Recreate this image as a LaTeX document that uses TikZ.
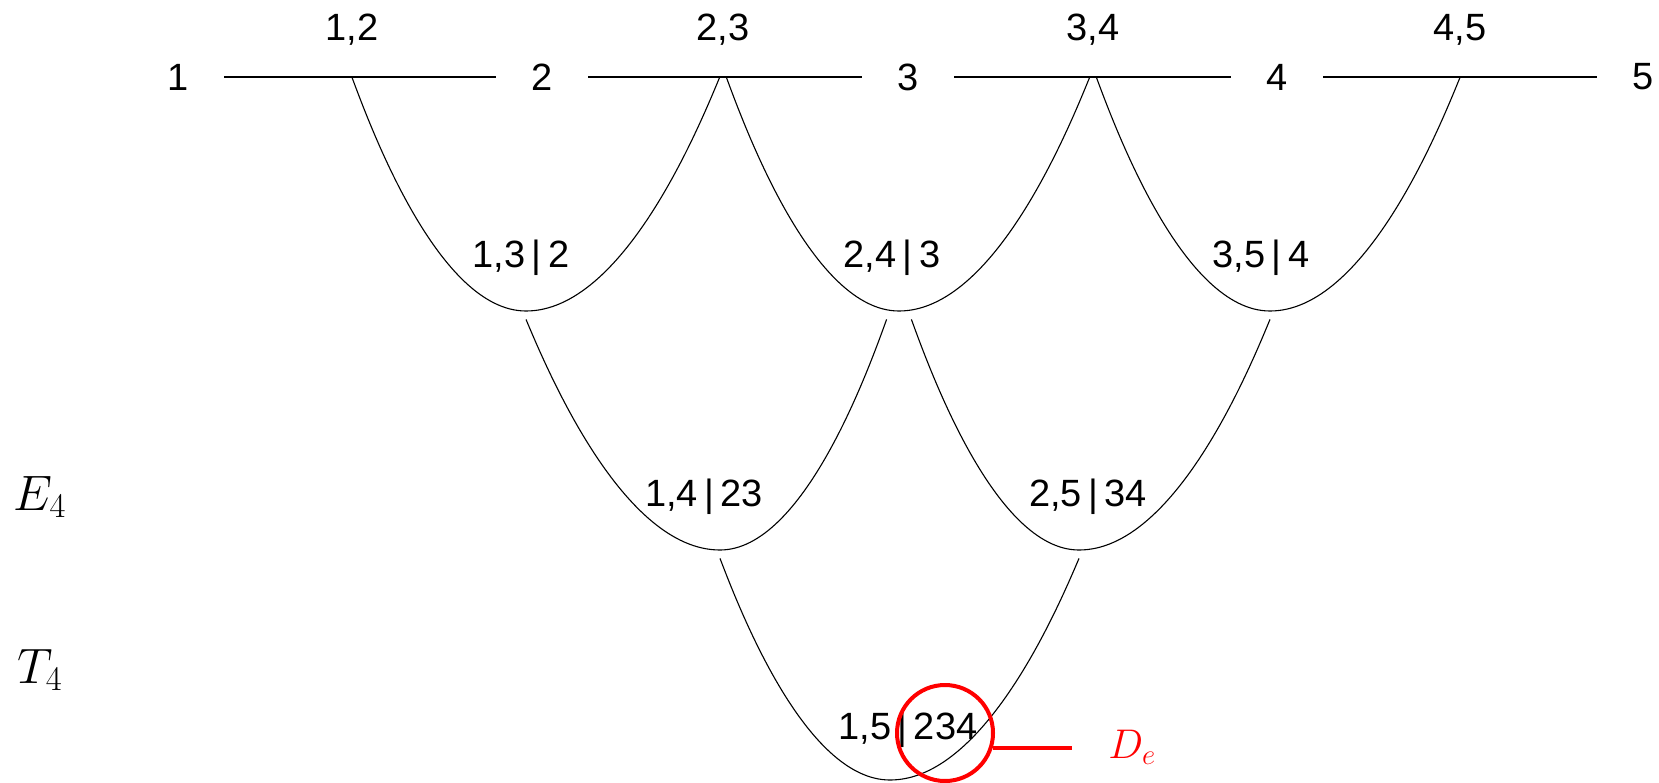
\documentclass[tikz,border=0pt]{standalone}
\usepackage{fontspec}
\newfontfamily\numfont{Liberation Sans}
\usetikzlibrary{positioning,calc}

\begin{document}
\begin{tikzpicture}[
    x=0.5pt,y=-0.5pt,
    seg/.style={draw=black, line width=1.2pt},
    vine/.style={draw=black, line width=0.55pt},
    vlabel/.style={font=\numfont\fontsize{19}{22}\selectfont, inner sep=0pt, minimum width=46pt},
    elabel/.style={font=\numfont\fontsize{19}{22}\selectfont, inner sep=0pt},
    clabel/.style={font=\numfont\fontsize{19}{22}\selectfont, inner sep=0pt},
    dot/.style={inner sep=0pt, minimum width=3pt, minimum height=0pt},
    apex/.style={inner sep=0pt, minimum width=12pt, minimum height=8pt},
    tlabel/.style={font=\fontsize{23}{27}\selectfont},
    hilite/.style={draw=red, line width=2pt},
    rlabel/.style={font=\fontsize{22}{26}\selectfont, text=red}
]

\useasboundingbox (0,0) rectangle (1659,782);

% ===== row heights =====
\def\yTop{77}
\def\yEdge{30}
\def\yB{311} \def\yC{550} \def\yD{780}
\def\bar{\,|\,}

% ===== tree T1: vertices and edges =====
\node[vlabel] (v1) at (178,\yTop) {1};
\node[vlabel] (v2) at (542,\yTop) {2};
\node[vlabel] (v3) at (908,\yTop) {3};
\node[vlabel] (v4) at (1277,\yTop) {4};
\node[vlabel] (v5) at (1643,\yTop) {5};

\draw[seg] (v1) -- (v2);
\draw[seg] (v2) -- (v3);
\draw[seg] (v3) -- (v4);
\draw[seg] (v4) -- (v5);

\node[elabel] (e12) at (352,\yEdge) {1,2};
\node[elabel] (e23) at (723,\yEdge) {2,3};
\node[elabel] (e34) at (1093,\yEdge) {3,4};
\node[elabel] (e45) at (1460,\yEdge) {4,5};

% attach points on the edges
\node[dot] (a12) at (e12 |- v1) {};
\node[dot] (a23) at (e23 |- v1) {};
\node[dot] (a34) at (e34 |- v1) {};
\node[dot] (a45) at (e45 |- v1) {};

% ===== tree T2 =====
\node[apex] (b13) at (526,\yB) {};
\node[apex] (b24) at (899,\yB) {};
\node[apex] (b35) at (1270,\yB) {};
\node[clabel] (c13) at (521,258) {1,3\bar 2};
\node[clabel] (c24) at (892,258) {2,4\bar 3};
\node[clabel] (c35) at (1261,258) {3,5\bar 4};

\draw[vine] (a12.south) parabola bend (b13.center) (a23.south west);
\draw[vine] (a23.south east) parabola bend (b24.center) (a34.south west);
\draw[vine] (a34.south east) parabola bend (b35.center) (a45.south);

% ===== tree T3 =====
\node[apex] (b14) at (720,\yC) {};
\node[apex] (b25) at (1079,\yC) {};
\node[clabel] (c14) at (704,497) {1,4\bar 23};
\node[clabel] (c25) at (1088,497) {2,5\bar 34};

\draw[vine] (b13.south) parabola bend (b14.center) (b24.south west);
\draw[vine] (b24.south east) parabola bend (b25.center) (b35.south);

% ===== tree T4 =====
\node[apex] (b15) at (890,\yD) {};
\node[clabel] (c15) at (908,730) {1,5\bar 234};

\draw[vine] (b14.south) parabola bend (b15.center) (b25.south);

% level labels
\node[tlabel] (lE) at (40,497) {$E_4$};
\node[tlabel] (lT) at (40,670) {$T_4$};

% highlighted edge
\node[circle, hilite, minimum size=48pt, inner sep=0pt] (de) at (945,733) {};
\node[rlabel, anchor=west, inner sep=0pt] (dlab) at (1108,747) {$D_e$};
\draw[hilite, shorten >=18pt] (de.-17) -- (de.-17 -| dlab.west);
\end{tikzpicture}
\end{document}
